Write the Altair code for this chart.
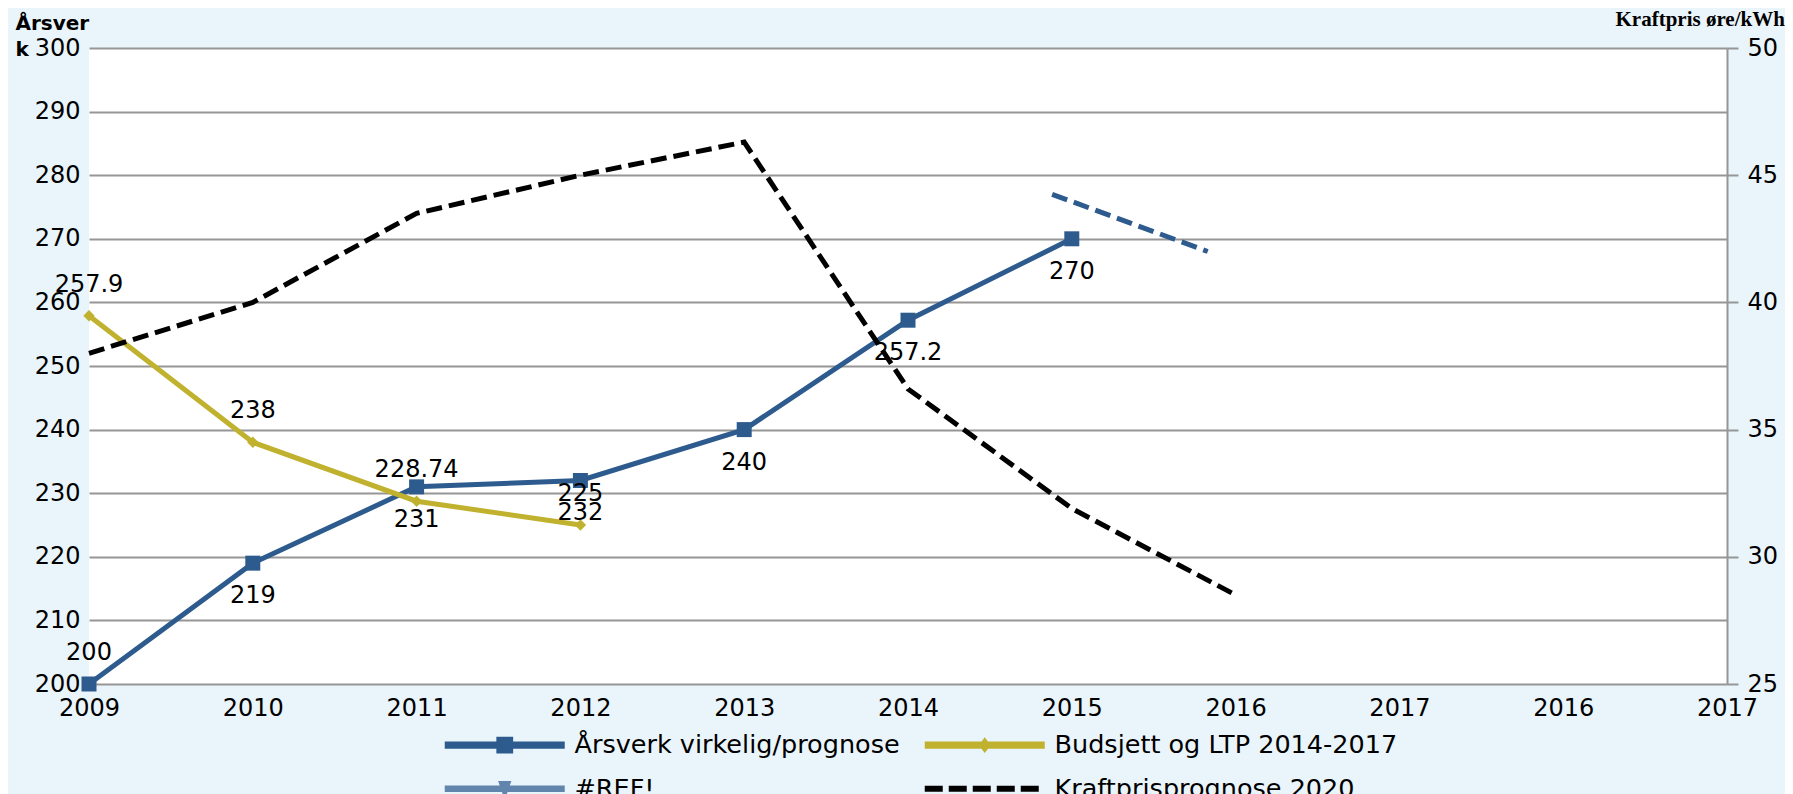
import json
import altair as alt
import pandas as pd

# ---------------- data ----------------
x_labels = ["2009", "2010", "2011", "2012", "2013", "2014", "2015", "2016", "2017", "2016", "2017"]
arsverk = [200, 219, 231, 232, 240, 257.2, 270]
arsverk_label_above = [True, False, False, False, False, False, False]
budsjett = [257.9, 238, 228.74, 225]
kraftpris = [38.0, 40.0, 43.5, 45.0, 46.3, 36.6, 31.9, 28.5]
trend_x = [5.88, 6.83]
trend_y = [277.0, 268.0]
series_names = ["Årsverk virkelig/prognose", "Budsjett og LTP 2014-2017", "#REF!", "Kraftprisprognose 2020"]
series_colors = ["#2E5B8E", "#C0B22E", "#6285AD", "#000000"]

BLUE, YELLOW = series_colors[0], series_colors[1]
FONT = "DejaVu Sans"
GRID = "#969696"

df_a = pd.DataFrame({"i": list(range(len(arsverk))), "v": arsverk,
                     "label": [f"{v:g}" for v in arsverk], "above": arsverk_label_above})
df_b = pd.DataFrame({"i": list(range(len(budsjett))), "v": budsjett,
                     "label": [f"{v:g}" for v in budsjett]})
df_k = pd.DataFrame({"i": list(range(len(kraftpris))), "k": kraftpris})
df_t = pd.DataFrame({"i": trend_x, "v": trend_y})
df_leg = pd.DataFrame({"series": series_names, "i": [0] * 4, "v": [100] * 4})

# ---------------- legend symbols (line + marker paths, 1 unit = 12 px) ----------------
def rect(x0, x1, h):
    return f"M{x0:.3f},{-h:.3f}H{x1:.3f}V{h:.3f}H{x0:.3f}Z"

sym_blue = rect(-1, 9, 0.3) + " M3.3,-0.7H4.7V0.7H3.3Z"
sym_yel = rect(-1, 9, 0.3) + " M4,-0.65L4.5,0L4,0.65L3.5,0Z"
sym_ref = rect(-1, 9, 0.28) + " M3.45,-0.65H4.55L4,0.95Z"
sym_dash = " ".join(rect(-1 + k * 2, -1 + k * 2 + 1.5, 0.25) for k in range(5))
legend_paths = [sym_blue, sym_yel, sym_ref, sym_dash]

# ---------------- scales / axes ----------------
x_scale = alt.Scale(domain=[0, len(x_labels) - 1], nice=False, zero=False)
x_axis = alt.Axis(values=list(range(len(x_labels))),
                  labelExpr=f"{json.dumps(x_labels)}[datum.value]",
                  title=None, ticks=False, domain=False, grid=False,
                  labelFont=FONT, labelFontSize=24, labelColor="black",
                  labelPadding=12, labelFlush=False, labelOverlap=False, labelBound=False)

y_scale = alt.Scale(domain=[200, 300], nice=False, zero=False)
y_axis = alt.Axis(values=list(range(200, 301, 10)), grid=True, gridColor=GRID, gridWidth=2,
                  ticks=False, domain=False, labelFont=FONT, labelFontSize=24, labelColor="black",
                  labelPadding=9, labelFlush=False, labelOverlap=False, labelBound=False,
                  title=["Årsver", "k"], titleAngle=0, titleFont=FONT, titleFontSize=20,
                  titleFontWeight="bold", titleColor="black", titleAlign="left",
                  titleBaseline="top", titleX=-74, titleY=-35, titleLineHeight=26)

k_scale = alt.Scale(domain=[25, 50], nice=False, zero=False)
k_axis = alt.Axis(orient="right", values=list(range(25, 51, 5)), grid=False,
                  ticks=True, tickSize=11, tickColor=GRID, tickWidth=2,
                  domain=True, domainColor=GRID, domainWidth=2,
                  labelFont=FONT, labelFontSize=24, labelColor="black", labelPadding=9,
                  labelFlush=False, labelOverlap=False, labelBound=False,
                  title="Kraftpris øre/kWh", titleAngle=0, titleFont="Liberation Serif",
                  titleFontSize=21, titleFontWeight="bold", titleColor="black",
                  titleAlign="left", titleBaseline="middle", titleX=-112, titleY=-29)

X = alt.X("i:Q", scale=x_scale, axis=x_axis)
Y = alt.Y("v:Q", scale=y_scale, axis=y_axis)

blue_line = alt.Chart(df_a).mark_line(color=BLUE, strokeWidth=5).encode(x=X, y=Y)
blue_pts = alt.Chart(df_a).mark_point(shape="square", size=225, filled=True, color=BLUE,
                                      opacity=1).encode(x=X, y=Y)
yel_line = alt.Chart(df_b).mark_line(color=YELLOW, strokeWidth=5).encode(x=X, y=Y)
yel_pts = alt.Chart(df_b).mark_point(shape="diamond", size=130, filled=True, color=YELLOW,
                                     opacity=1).encode(x=X, y=Y)
trend = alt.Chart(df_t).mark_line(color=BLUE, strokeWidth=5, strokeDash=[16, 7]).encode(x=X, y=Y)

txt = dict(font=FONT, fontSize=24, color="black", baseline="middle", align="center")
lab_a_below = alt.Chart(df_a).transform_filter("!datum.above").mark_text(dy=33, **txt).encode(
    x=X, y=Y, text="label:N")
lab_a_above = alt.Chart(df_a).transform_filter("datum.above").mark_text(dy=-31, **txt).encode(
    x=X, y=Y, text="label:N")
lab_b = alt.Chart(df_b).mark_text(dy=-31, **txt).encode(x=X, y=Y, text="label:N")

leg = alt.Legend(title=None, orient="none", direction="horizontal", legendX=355, legendY=684,
                 columns=2, columnPadding=24, rowPadding=17, labelFont=FONT, labelFontSize=25.5,
                 labelColor="black", symbolSize=576, symbolStrokeWidth=0,
                 labelOffset=105, symbolOffset=0, padding=0, labelLimit=0)
legend_dummy = alt.Chart(df_leg).mark_point(filled=True, clip=True, size=576, opacity=1).encode(
    x=X, y=Y,
    color=alt.Color("series:N", scale=alt.Scale(domain=series_names, range=series_colors), legend=leg),
    shape=alt.Shape("series:N", scale=alt.Scale(domain=series_names, range=legend_paths), legend=leg),
)

left = alt.layer(blue_line, yel_line, trend, blue_pts, yel_pts,
                 lab_a_below, lab_a_above, lab_b, legend_dummy)

right = alt.Chart(df_k).mark_line(color="black", strokeWidth=5, strokeDash=[16, 7]).encode(
    x=X, y=alt.Y("k:Q", scale=k_scale, axis=k_axis))

chart = alt.layer(left, right).resolve_scale(y="independent").properties(
    width=1638, height=636,
    padding={"left": 81, "top": 40, "right": 58, "bottom": 110},
    autosize=alt.AutoSizeParams(type="none"),
    background="#EAF4FB",
).configure_view(stroke=None, fill="white")

chart.save("out.html", embed_options={"renderer": "svg", "actions": False})
